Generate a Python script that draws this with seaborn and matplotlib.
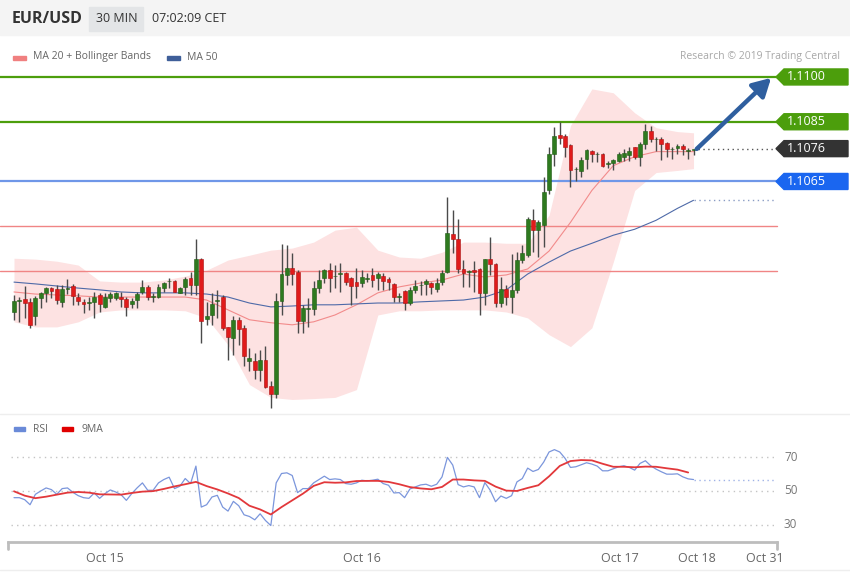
import numpy as np
import matplotlib
matplotlib.use("Agg")
import matplotlib.pyplot as plt
import matplotlib.transforms as mtransforms
from matplotlib.patches import Polygon, Rectangle
from matplotlib.lines import Line2D
import seaborn as sns

# ---------------- THEME & COLORS ----------------
sns.set_theme(style="white")
plt.rcParams["font.family"] = ["Open Sans", "DejaVu Sans"]

GREEN_LVL = "#4c9e0c"
BLUE_LVL = "#1a66f0"
DARK = "#333333"
BAND = "#fde2e2"
MA20_COL = "#f28b8b"
MA50_COL = "#4e6aa8"
UP = "#2e7a1f"
DOWN = "#e01b1b"
WICK = "#4a4a4a"
RSI_COL = "#7b96dc"
MA9_COL = "#e2383b"

# ---------------- DATA (EUR/USD, 30 min candles) ----------------
opens = [1.10214, 1.10249, 1.10256, 1.10248, 1.10200, 1.10259, 1.10275, 1.10292, 1.10289, 1.10248,
         1.10290, 1.10300, 1.10264, 1.10248, 1.10243, 1.10248, 1.10270, 1.10231, 1.10261, 1.10261,
         1.10264, 1.10256, 1.10239, 1.10253, 1.10281, 1.10298, 1.10263, 1.10264, 1.10292, 1.10316,
         1.10317, 1.10278, 1.10298, 1.10326, 1.10303, 1.10390, 1.10189, 1.10203, 1.10250, 1.10264,
         1.10162, 1.10126, 1.10187, 1.10159, 1.10048, 1.10050, 1.10020, 1.10053, 1.09964, 1.09937,
         1.10250, 1.10337, 1.10359, 1.10348, 1.10184, 1.10224, 1.10224, 1.10292, 1.10326, 1.10353,
         1.10333, 1.10340, 1.10345, 1.10326, 1.10314, 1.10309, 1.10324, 1.10337, 1.10326, 1.10333,
         1.10322, 1.10307, 1.10263, 1.10284, 1.10244, 1.10287, 1.10302, 1.10306, 1.10309, 1.10290,
         1.10314, 1.10348, 1.10473, 1.10459, 1.10356, 1.10347, 1.10353, 1.10356, 1.10276, 1.10389,
         1.10373, 1.10244, 1.10289, 1.10262, 1.10287, 1.10387, 1.10403, 1.10520, 1.10489, 1.10503,
         1.10620, 1.10742, 1.10807, 1.10803, 1.10772, 1.10691, 1.10684, 1.10726, 1.10753, 1.10741,
         1.10742, 1.10710, 1.10711, 1.10720, 1.10731, 1.10737, 1.10764, 1.10731, 1.10776, 1.10820,
         1.10791, 1.10792, 1.10778, 1.10758, 1.10762, 1.10770, 1.10751, 1.10756]
highs = [1.10270, 1.10264, 1.10301, 1.10261, 1.10268, 1.10281, 1.10298, 1.10298, 1.10303, 1.10303,
         1.10322, 1.10306, 1.10275, 1.10256, 1.10264, 1.10279, 1.10278, 1.10275, 1.10281, 1.10279,
         1.10279, 1.10264, 1.10261, 1.10281, 1.10320, 1.10303, 1.10275, 1.10306, 1.10314, 1.10328,
         1.10320, 1.10298, 1.10331, 1.10348, 1.10456, 1.10393, 1.10248, 1.10276, 1.10287, 1.10270,
         1.10164, 1.10198, 1.10196, 1.10170, 1.10092, 1.10076, 1.10084, 1.10098, 1.09981, 1.10276,
         1.10442, 1.10437, 1.10409, 1.10353, 1.10237, 1.10259, 1.10318, 1.10353, 1.10356, 1.10376,
         1.10370, 1.10376, 1.10348, 1.10331, 1.10359, 1.10353, 1.10342, 1.10359, 1.10348, 1.10342,
         1.10331, 1.10309, 1.10276, 1.10287, 1.10296, 1.10320, 1.10318, 1.10322, 1.10314, 1.10326,
         1.10353, 1.10598, 1.10553, 1.10526, 1.10387, 1.10353, 1.10384, 1.10359, 1.10392, 1.10464,
         1.10378, 1.10329, 1.10303, 1.10407, 1.10414, 1.10437, 1.10530, 1.10559, 1.10520, 1.10664,
         1.10764, 1.10831, 1.10848, 1.10809, 1.10776, 1.10698, 1.10731, 1.10759, 1.10756, 1.10748,
         1.10744, 1.10718, 1.10726, 1.10748, 1.10759, 1.10764, 1.10767, 1.10781, 1.10842, 1.10837,
         1.10798, 1.10798, 1.10781, 1.10764, 1.10776, 1.10776, 1.10762, 1.10760]
lows = [1.10187, 1.10181, 1.10192, 1.10159, 1.10170, 1.10225, 1.10248, 1.10259, 1.10239, 1.10231,
        1.10272, 1.10237, 1.10237, 1.10209, 1.10220, 1.10192, 1.10212, 1.10225, 1.10248, 1.10253,
        1.10228, 1.10198, 1.10225, 1.10225, 1.10272, 1.10253, 1.10248, 1.10259, 1.10279, 1.10292,
        1.10279, 1.10276, 1.10270, 1.10270, 1.10270, 1.10109, 1.10170, 1.10170, 1.10192, 1.10153,
        1.10051, 1.10070, 1.10103, 1.10031, 1.10014, 1.09987, 1.09981, 1.09959, 1.09892, 1.09926,
        1.10203, 1.10303, 1.10303, 1.10142, 1.10142, 1.10164, 1.10203, 1.10276, 1.10309, 1.10281,
        1.10292, 1.10281, 1.10303, 1.10237, 1.10259, 1.10298, 1.10314, 1.10298, 1.10287, 1.10287,
        1.10287, 1.10248, 1.10248, 1.10218, 1.10237, 1.10276, 1.10270, 1.10270, 1.10273, 1.10281,
        1.10303, 1.10342, 1.10409, 1.10342, 1.10298, 1.10298, 1.10281, 1.10203, 1.10237, 1.10337,
        1.10229, 1.10231, 1.10237, 1.10211, 1.10276, 1.10376, 1.10398, 1.10414, 1.10398, 1.10431,
        1.10609, 1.10703, 1.10776, 1.10733, 1.10633, 1.10653, 1.10664, 1.10692, 1.10714, 1.10714,
        1.10698, 1.10696, 1.10687, 1.10714, 1.10720, 1.10720, 1.10726, 1.10703, 1.10759, 1.10781,
        1.10753, 1.10722, 1.10731, 1.10726, 1.10742, 1.10737, 1.10725, 1.10737]
closes = [1.10250, 1.10252, 1.10242, 1.10170, 1.10261, 1.10275, 1.10292, 1.10283, 1.10253, 1.10289,
          1.10292, 1.10268, 1.10250, 1.10239, 1.10245, 1.10264, 1.10239, 1.10264, 1.10272, 1.10275,
          1.10257, 1.10231, 1.10250, 1.10272, 1.10296, 1.10264, 1.10265, 1.10297, 1.10309, 1.10317,
          1.10281, 1.10292, 1.10322, 1.10303, 1.10390, 1.10184, 1.10200, 1.10240, 1.10253, 1.10159,
          1.10129, 1.10187, 1.10156, 1.10064, 1.10059, 1.10020, 1.10053, 1.09962, 1.09937, 1.10250,
          1.10340, 1.10359, 1.10339, 1.10184, 1.10226, 1.10226, 1.10292, 1.10320, 1.10353, 1.10326,
          1.10334, 1.10345, 1.10315, 1.10301, 1.10301, 1.10331, 1.10326, 1.10320, 1.10340, 1.10318,
          1.10314, 1.10264, 1.10265, 1.10242, 1.10287, 1.10300, 1.10304, 1.10318, 1.10298, 1.10309,
          1.10344, 1.10478, 1.10459, 1.10356, 1.10342, 1.10349, 1.10348, 1.10276, 1.10389, 1.10373,
          1.10242, 1.10289, 1.10262, 1.10287, 1.10387, 1.10409, 1.10526, 1.10489, 1.10514, 1.10614,
          1.10742, 1.10803, 1.10796, 1.10764, 1.10687, 1.10693, 1.10722, 1.10756, 1.10742, 1.10743,
          1.10703, 1.10711, 1.10722, 1.10742, 1.10744, 1.10753, 1.10731, 1.10776, 1.10820, 1.10792,
          1.10793, 1.10776, 1.10759, 1.10760, 1.10770, 1.10759, 1.10756, 1.10759]

# indicator lines, read every 4th candle
band_idx = list(range(0, 125, 4)) + [127]
bb_upper = [1.10393, 1.10390, 1.10383, 1.10370, 1.10317, 1.10313, 1.10313, 1.10320, 1.10333, 1.10353,
            1.10387, 1.10403, 1.10420, 1.10427, 1.10447, 1.10487, 1.10497, 1.10420, 1.10397, 1.10393,
            1.10413, 1.10447, 1.10447, 1.10443, 1.10443, 1.10537, 1.10837, 1.10960, 1.10947, 1.10880,
            1.10830, 1.10817, 1.10813]
bb_lower = [1.10180, 1.10163, 1.10163, 1.10180, 1.10213, 1.10220, 1.10220, 1.10220, 1.10217, 1.10193,
            1.10103, 1.09970, 1.09927, 1.09920, 1.09923, 1.09927, 1.09953, 1.10203, 1.10217, 1.10217,
            1.10220, 1.10220, 1.10220, 1.10213, 1.10193, 1.10137, 1.10097, 1.10160, 1.10380, 1.10620,
            1.10680, 1.10687, 1.10693]
ma20 = [1.10280, 1.10273, 1.10270, 1.10267, 1.10263, 1.10263, 1.10263, 1.10263, 1.10263, 1.10253,
        1.10220, 1.10187, 1.10177, 1.10170, 1.10180, 1.10203, 1.10237, 1.10277, 1.10297, 1.10310,
        1.10320, 1.10340, 1.10330, 1.10337, 1.10357, 1.10417, 1.10513, 1.10620, 1.10703, 1.10733,
        1.10750, 1.10750, 1.10750]
ma50 = [1.10313, 1.10307, 1.10300, 1.10293, 1.10287, 1.10280, 1.10277, 1.10277, 1.10277, 1.10273,
        1.10263, 1.10243, 1.10230, 1.10233, 1.10237, 1.10237, 1.10240, 1.10243, 1.10243, 1.10247,
        1.10250, 1.10253, 1.10263, 1.10287, 1.10340, 1.10380, 1.10417, 1.10443, 1.10470, 1.10490,
        1.10520, 1.10560, 1.10587]

rsi = [46.0, 46.0, 44.8, 41.8, 48.0, 50.0, 51.8, 50.8, 48.0, 51.4,
       51.8, 49.2, 47.2, 46.0, 45.6, 48.8, 45.6, 48.4, 50.6, 49.4,
       47.8, 44.4, 48.4, 51.8, 54.8, 50.4, 50.4, 54.8, 56.8, 58.2,
       51.4, 52.8, 57.4, 54.4, 64.8, 40.4, 41.8, 46.4, 47.4, 40.4,
       38.0, 43.8, 41.2, 35.8, 34.8, 32.8, 36.4, 32.4, 29.4, 54.8,
       60.4, 60.8, 59.2, 49.0, 51.4, 51.4, 54.8, 56.8, 58.8, 56.8,
       57.2, 56.8, 54.4, 54.0, 54.8, 56.4, 56.0, 56.4, 57.0, 54.4,
       53.4, 48.8, 49.0, 46.0, 51.2, 52.4, 53.6, 54.0, 52.8, 54.0,
       58.4, 70.0, 65.4, 53.8, 52.4, 53.2, 52.4, 46.0, 55.0, 50.4,
       43.6, 47.0, 45.6, 47.2, 55.4, 57.4, 63.6, 61.6, 62.8, 67.2,
       73.2, 74.6, 73.2, 69.4, 64.0, 64.4, 65.6, 66.8, 66.0, 64.8,
       62.0, 62.0, 63.2, 64.4, 65.0, 64.0, 62.4, 66.4, 68.0, 65.0,
       63.0, 61.4, 60.0, 60.0, 60.2, 58.4, 57.2, 56.8]
ma9_idx = list(range(0, 128, 2))
ma9 = [49.8, 47.2, 45.7, 46.6, 47.8, 49.0, 49.4, 49.0, 48.0, 47.9,
       47.8, 48.8, 49.6, 49.9, 51.2, 52.7, 54.0, 55.4, 52.9, 50.9,
       48.5, 45.8, 41.2, 39.0, 36.0, 40.4, 44.4, 48.4, 53.0, 55.2,
       54.9, 55.1, 55.9, 56.0, 56.0, 55.4, 54.0, 52.3, 51.5, 51.0,
       52.4, 56.8, 56.8, 56.3, 56.0, 52.6, 50.2, 50.0, 51.8, 53.4,
       58.7, 64.9, 67.8, 68.4, 68.2, 66.2, 64.4, 64.4, 64.1, 64.5,
       64.4, 63.5, 62.7, 61.0]

levels = [1.1100, 1.1085, 1.1065, 1.1050, 1.1035]
level_colors = [GREEN_LVL, GREEN_LVL, "#6f97e8", "#f08585", "#f08585"]
level_widths = [1.6, 1.6, 1.6, 1.0, 1.0]
tag_levels = [1.1100, 1.1085, 1.1076, 1.1065]
tag_colors = [GREEN_LVL, GREEN_LVL, DARK, BLUE_LVL]
target = 1.10997

date_pos = [17.0, 65.0, 113.3, 127.6, 140.3]
date_labels = ["Oct 15", "Oct 16", "Oct 17", "Oct 18", "Oct 31"]
rsi_levels = [30, 50, 70]

W, H = 850, 576
XLIM = (-1.12, 142.6)
X_END = 142.2


def fx(px):
    return px / W


def fy(py):
    return 1 - py / H


fig = plt.figure(figsize=(W / 100, H / 100), dpi=100)

# ---------------- HEADER ----------------
fig.patches.append(Rectangle((0, fy(35)), 1, 35 / H, transform=fig.transFigure,
                             color="#f4f4f4", zorder=0))
fig.patches.append(Rectangle((fx(89), fy(31)), 54 / W, 24 / H, transform=fig.transFigure,
                             color="#e3e5e7", zorder=0))
fig.text(fx(12), fy(19), "EUR/USD", fontsize=11.5, fontweight="bold", color=DARK, va="center")
fig.text(fx(96), fy(19), "30 MIN", fontsize=9, color=DARK, va="center")
fig.text(fx(152), fy(19), "07:02:09 CET", fontsize=9, color=DARK, va="center")

# legend row
fig.patches.append(Rectangle((fx(13), fy(60)), 13 / W, 4 / H, transform=fig.transFigure, color="#f08080"))
fig.text(fx(33), fy(57), "MA 20 + Bollinger Bands", fontsize=7.5, color="#666666", va="center")
fig.patches.append(Rectangle((fx(167), fy(60)), 13 / W, 4 / H, transform=fig.transFigure, color="#3f5f99"))
fig.text(fx(187), fy(57), "MA 50", fontsize=7.5, color="#666666", va="center")
fig.text(fx(840), fy(57), "Research \u00a9 2019 Trading Central", fontsize=7.5,
         color="#a8a8a8", va="center", ha="right")

# ---------------- PRICE PANEL ----------------
ax = fig.add_axes([fx(8), fy(415), 769 / W, 347 / H])
ax.set_xlim(*XLIM)
ax.set_ylim(1.09868, 1.11030)
ax.axis("off")

ax.fill_between(band_idx, bb_lower, bb_upper, color=BAND, lw=0, zorder=1)

for lvl, col, lw in zip(levels, level_colors, level_widths):
    ax.axhline(lvl, xmin=-8 / 769, xmax=1.0, color=col, lw=lw, clip_on=False, zorder=1.5)

sns.lineplot(x=band_idx, y=ma20, ax=ax, color=MA20_COL, lw=0.8, zorder=2)
sns.lineplot(x=band_idx, y=ma50, ax=ax, color=MA50_COL, lw=0.8, zorder=2)
ax.plot([band_idx[-1], X_END], [ma50[-1], ma50[-1]], ls=(0, (1, 2.5)), color="#8a9cc4", lw=1, zorder=2)

idx = np.arange(len(closes))
o = np.array(opens)
c = np.array(closes)
up = c >= o
ax.vlines(idx, lows, highs, color=WICK, lw=1, zorder=3)
ax.bar(idx, np.maximum(np.abs(c - o), 0.000015), bottom=np.minimum(o, c), width=0.72,
       color=np.where(up, UP, DOWN), edgecolor=np.where(up, "#1f5a14", "#a81010"),
       lw=0.4, zorder=4)

# last price dotted + projected arrow
ax.plot([idx[-1] + 0.8, X_END], [closes[-1], closes[-1]], ls=(0, (1, 2.5)), color="#555555", lw=1, zorder=2)
ax.annotate("", xy=(141.5, target), xytext=(idx[-1] + 0.6, closes[-1]),
            arrowprops=dict(arrowstyle="-|>,head_length=0.9,head_width=0.5", color="#2f5f9f",
                            lw=3.2, shrinkA=0, shrinkB=0),
            annotation_clip=False, zorder=6)

# price tags at right
trans = mtransforms.blended_transform_factory(ax.transAxes, ax.transData)
half = 8 / 347 * (1.11030 - 1.09868)
x_tip, x_base, x_right = (776 - 8) / 769, (784 - 8) / 769, (848 - 8) / 769
for lvl, col in zip(tag_levels, tag_colors):
    poly = Polygon([(x_tip, lvl), (x_base, lvl + half), (x_right, lvl + half),
                    (x_right, lvl - half), (x_base, lvl - half)],
                   closed=True, transform=trans, color=col, clip_on=False, zorder=5)
    ax.add_patch(poly)
    ax.text((787 - 8) / 769, lvl, f"{lvl:.4f}", transform=trans, color="white",
            fontsize=9, va="center", ha="left", clip_on=False, zorder=6)

# ---------------- RSI PANEL ----------------
fig.add_artist(Line2D([0, 1], [fy(414), fy(414)], transform=fig.transFigure, color="#eeeeee", lw=1))
fig.patches.append(Rectangle((fx(14), fy(431)), 11 / W, 4 / H, transform=fig.transFigure, color="#6a8ad8"))
fig.text(fx(33), fy(429), "RSI", fontsize=7.5, color="#666666", va="center")
fig.patches.append(Rectangle((fx(62), fy(431)), 11 / W, 4 / H, transform=fig.transFigure, color="#e00000"))
fig.text(fx(81), fy(429), "9MA", fontsize=7.5, color="#666666", va="center")

ax2 = fig.add_axes([fx(8), fy(542), 769 / W, 112 / H])
ax2.set_xlim(*XLIM)
ax2.set_ylim(19.6, 86.3)
for s in ["top", "left", "right"]:
    ax2.spines[s].set_visible(False)
ax2.spines["bottom"].set_color("#bdbdbd")
ax2.spines["bottom"].set_linewidth(2)
ax2.set_yticks([])
ax2.set_xticks(date_pos)
ax2.set_xticklabels(date_labels, fontsize=9, color="#666666")
ax2.tick_params(axis="x", length=0, pad=7)
for xe in [0, 1]:
    ax2.plot([xe, xe], [0, -0.06], transform=ax2.transAxes, color="#bdbdbd", lw=2, clip_on=False)

trans2 = mtransforms.blended_transform_factory(ax2.transAxes, ax2.transData)
for v in rsi_levels:
    ax2.axhline(v, xmin=3 / 769, xmax=767 / 769, color="#c4c4c4", lw=1, ls=(0, (1, 3)), zorder=1)
    ax2.text((784 - 8) / 769, v, str(v), transform=trans2, fontsize=8.5, color="#777777",
             va="center", ha="left", clip_on=False)

sns.lineplot(x=idx, y=rsi, ax=ax2, color=RSI_COL, lw=0.9, zorder=3)
sns.lineplot(x=ma9_idx, y=ma9, ax=ax2, color=MA9_COL, lw=1.3, zorder=4)
ax2.plot([idx[-1], X_END], [rsi[-1], rsi[-1]], ls=(0, (1, 2.5)), color="#9fb2e6", lw=1, zorder=2)
ax2.set_xlabel("")
ax2.set_ylabel("")

fig.add_artist(Line2D([0, 1], [fy(570), fy(570)], transform=fig.transFigure, color="#eeeeee", lw=1))

fig.savefig("out.png", dpi=100)
